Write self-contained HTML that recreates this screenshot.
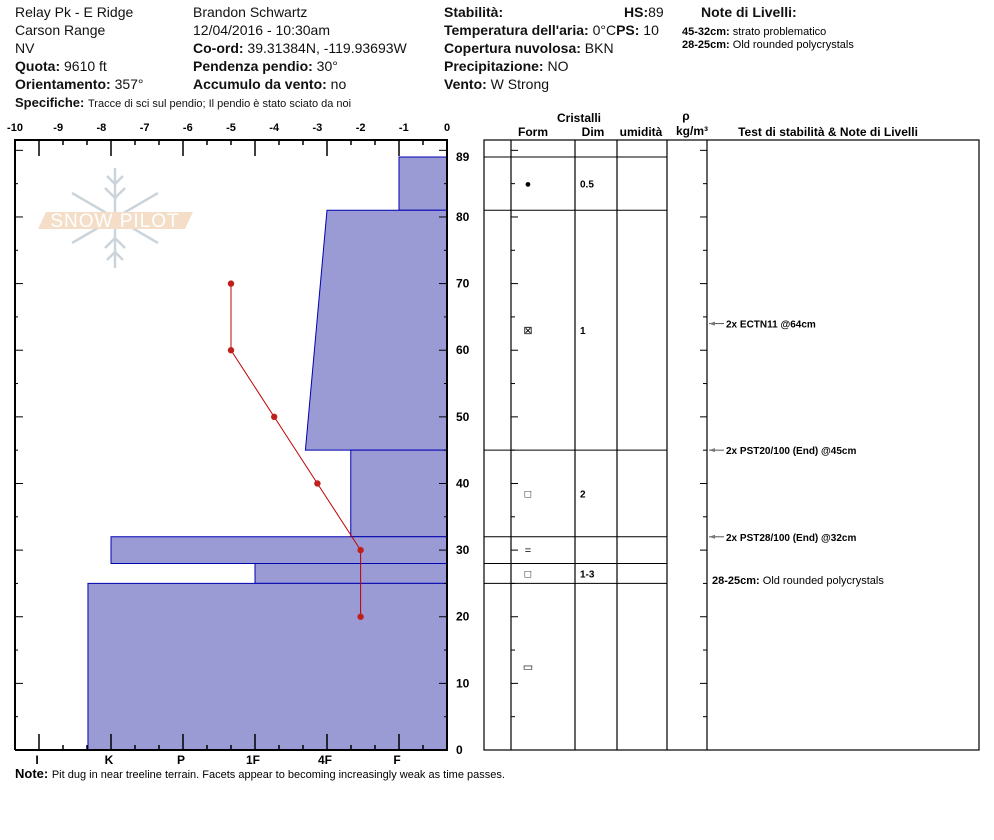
<!DOCTYPE html>
<html><head><meta charset="utf-8"><style>
body{margin:0;background:#fff;width:994px;height:840px;overflow:hidden;font-family:"Liberation Sans",Arial,sans-serif;}
svg{display:block}
text{font-family:"Liberation Sans",Arial,sans-serif;}
.h{font-size:14px;fill:#111}
.b{font-weight:bold}
.t{font-size:11px;font-weight:bold;fill:#000}
.s{font-size:10px;fill:#000}
</style></head><body>
<svg id="chart" width="994" height="840" viewBox="0 0 994 840">
<g>
<text class="h" x="15" y="17">Relay Pk - E Ridge</text>
<text class="h" x="15" y="35">Carson Range</text>
<text class="h" x="15" y="53">NV</text>
<text class="h" x="15" y="71"><tspan class="b">Quota:</tspan> 9610 ft</text>
<text class="h" x="15" y="89"><tspan class="b">Orientamento:</tspan> 357°</text>
<text class="h" x="15" y="107" style="font-size:13px"><tspan class="b">Specifiche:</tspan> <tspan style="font-size:11px">Tracce di sci sul pendio;  Il pendio è stato sciato da noi</tspan></text>
<text class="h" x="193" y="17">Brandon Schwartz</text>
<text class="h" x="193" y="35">12/04/2016 - 10:30am</text>
<text class="h" x="193" y="53"><tspan class="b">Co-ord:</tspan> 39.31384N, -119.93693W</text>
<text class="h" x="193" y="71"><tspan class="b">Pendenza pendio:</tspan> 30°</text>
<text class="h" x="193" y="89"><tspan class="b">Accumulo da vento:</tspan> no</text>
<text class="h b" x="444" y="17">Stabilità:</text>
<text class="h" x="624" y="17"><tspan class="b">HS:</tspan>89</text>
<text class="h" x="444" y="35"><tspan class="b">Temperatura dell'aria:</tspan> 0°C<tspan class="b">PS:</tspan> 10</text>
<text class="h" x="444" y="53"><tspan class="b">Copertura nuvolosa:</tspan> BKN</text>
<text class="h" x="444" y="71"><tspan class="b">Precipitazione:</tspan> NO</text>
<text class="h" x="444" y="89"><tspan class="b">Vento:</tspan>  W Strong</text>
<text class="h b" x="701" y="17">Note di Livelli:</text>
<text x="682" y="35" style="font-size:11px"><tspan font-weight="bold">45-32cm:</tspan> strato problematico</text>
<text x="682" y="48" style="font-size:11px"><tspan font-weight="bold">28-25cm:</tspan>  Old rounded polycrystals</text>
</g>
<g opacity="0.6">
<g stroke="#a9b9c4" stroke-width="2.5" fill="none" transform="translate(115,218)">
<line x1="0" y1="-50" x2="0" y2="50"/><line x1="-43" y1="-25" x2="43" y2="25"/><line x1="-43" y1="25" x2="43" y2="-25"/>
<path d="M-8,-42 L0,-34 L8,-42 M-10,-30 L0,-20 L10,-30 M-8,42 L0,34 L8,42 M-10,30 L0,20 L10,30"/>
</g>
<polygon points="46,212 193,212 185,229 38,229" fill="#f0c9a5"/>
<text x="115" y="227" text-anchor="middle" style="font-size:19px;fill:#fff;letter-spacing:1px">SNOW PILOT</text>
</g>
<g id="left"></g>
<g id="right"></g>
<text x="15" y="778" style="font-size:13px"><tspan font-weight="bold">Note:</tspan> <tspan style="font-size:11px">Pit dug in near treeline terrain. Facets appear to becoming increasingly weak as time passes.</tspan></text>
</svg>
<script>
const NS="http://www.w3.org/2000/svg";
// data
const layerTop=[89,81,45,32,28,25];
const layerBottom=[81,45,32,28,25,0];
const hardTop=[1,2,1.67,5,3,5.32];
const hardBottom=[1,2.3,1.67,5,3,5.32];
const hardLabels=["I","K","P","1F","4F","F"];
const ramDepth=[70,60,50,40,30,20];
const ramValue=[-5,-5,-4,-3,-2,-2];
const ramTicks=[-10,-9,-8,-7,-6,-5,-4,-3,-2,-1,0];
const depthTicks=[0,10,20,30,40,50,60,70,80,89];
const grainForm=["●","⊠","□","=","□","▭"];
const grainSize=["0.5","1","2","","1-3",""];
const testDepth=[64,45,32];
const testText=["2x ECTN11 @64cm","2x PST20/100 (End) @45cm","2x PST28/100 (End) @32cm"];
// scales
const X0=15,X1=447,Y0=750,PX=593/89;
const y=d=>Y0-d*PX;
const xr=v=>X1+v*43.2;
const xh=h=>399-(h-1)*72;
function el(p,tag,a,txt){const e=document.createElementNS(NS,tag);for(const k in a)e.setAttribute(k,a[k]);if(txt!==undefined)e.textContent=txt;p.appendChild(e);return e;}
const L=document.getElementById('left'),R=document.getElementById('right');
// layers
layerTop.forEach((t,i)=>{
 const p=el(L,'polygon',{points:`${xh(hardTop[i])},${y(t)} ${X1},${y(t)} ${X1},${y(layerBottom[i])} ${xh(hardBottom[i])},${y(layerBottom[i])}`,fill:'#9a9ad5',stroke:'#0000b0','stroke-width':1});
 
 
});
// axes frame
el(L,'path',{d:`M${X0},${Y0} V140 H${X1} V${Y0} H${X0}`,fill:'none',stroke:'#000','stroke-width':2});
// top/bottom ticks
for(let k=0;k<18;k++){const x=39+k*24;if(x>X1)break;const major=k%3==0;
 el(L,'line',{x1:x,x2:x,y1:140,y2:140+(major?16:5),stroke:'#000','stroke-width':1.5});
 el(L,'line',{x1:x,x2:x,y1:Y0,y2:Y0-(major?16:5),stroke:'#000','stroke-width':1.5});}
ramTicks.forEach(v=>{const t=el(L,'text',{x:xr(v),y:131,'text-anchor':'middle',class:'t'},String(v));
 
 });
hardLabels.forEach((h,i)=>{const t=el(L,'text',{x:xh(6-i)-2,y:764,'text-anchor':'middle',class:'t',style:'font-size:12px'},h);
 
 });
// side ticks
for(let d=5;d<=90;d+=5){const m=d%10==0;
 el(L,'line',{x1:X0,x2:X0+(m?8:3),y1:y(d),y2:y(d),stroke:'#000','stroke-width':1});
 el(L,'line',{x1:X1,x2:X1-(m?8:3),y1:y(d),y2:y(d),stroke:'#000','stroke-width':1});}
depthTicks.forEach(d=>{const t=el(L,'text',{x:456,y:y(d)+4,class:'t',style:'font-size:12px'},String(d));
 
 });
// ram profile
el(L,'polyline',{points:ramDepth.map((d,i)=>`${xr(ramValue[i])},${y(d)}`).join(' '),fill:'none',stroke:'#c00000','stroke-width':1});
ramDepth.forEach((d,i)=>{const c=el(L,'circle',{cx:xr(ramValue[i]),cy:y(d),r:3.2,fill:'#c0201c'});
 
 });
// right table
const cols=[484,511,575,617,667,707,979];
el(R,'rect',{x:484,y:140,width:495,height:610,fill:'none',stroke:'#000','stroke-width':1.2});
cols.slice(1,6).forEach(c=>el(R,'line',{x1:c,x2:c,y1:140,y2:750,stroke:'#000','stroke-width':1.2}));
layerTop.forEach(t=>el(R,'line',{x1:484,x2:667,y1:y(t),y2:y(t),stroke:'#000','stroke-width':1}));
for(let d=5;d<=90;d+=5){const m=d%10==0;
 el(R,'line',{x1:511,x2:511+(m?7:4),y1:y(d),y2:y(d),stroke:'#000','stroke-width':1});
 el(R,'line',{x1:707,x2:707-(m?7:4),y1:y(d),y2:y(d),stroke:'#000','stroke-width':1});}
[["Cristalli",579,122],["Form",533,136],["Dim",593,136],["umidità",641,136],["ρ",686,120],["kg/m³",692,135],["Test di stabilità & Note di Livelli",828,136]].forEach(a=>{const t=el(R,'text',{x:a[1],y:a[2],'text-anchor':'middle',class:'t',style:'font-size:12px'},a[0]);
 
 });
layerTop.forEach((t,i)=>{const cy=(y(t)+y(layerBottom[i]))/2;
 const f=el(R,'text',{x:528,y:cy+4,'text-anchor':'middle',style:'font-size:11px'},grainForm[i]);
 
 
 if(grainSize[i]){const s=el(R,'text',{x:580,y:cy+4,class:'t',style:'font-size:10px'},grainSize[i]);
 
 }});
testDepth.forEach((d,i)=>{const yy=y(d);
 el(R,'line',{x1:709,x2:724,y1:yy,y2:yy,stroke:'#555','stroke-width':1});
 el(R,'path',{d:`M709,${yy} l6,-2 v4 z`,fill:'#777'});
 const t=el(R,'text',{x:726,y:yy+4,class:'t',style:'font-size:10px'},testText[i]);
 
 });
const n=el(R,'text',{x:712,y:584,style:'font-size:11px'});


el(n,'tspan',{'font-weight':'bold'},'28-25cm:');el(n,'tspan',{},'  Old rounded polycrystals');
</script>
</body></html>
